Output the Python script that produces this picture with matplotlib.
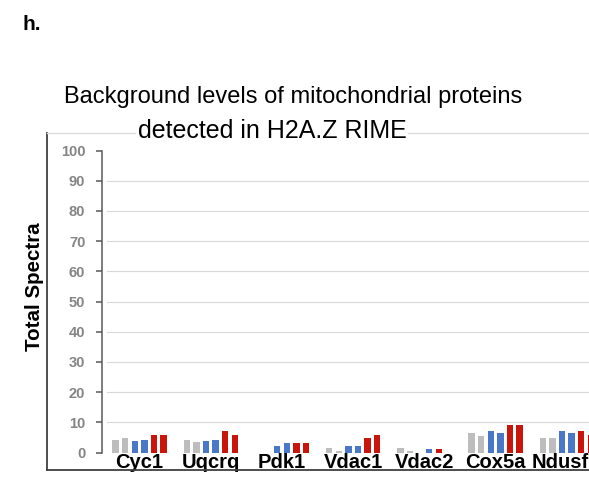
import matplotlib.pyplot as plt
from matplotlib.lines import Line2D
from matplotlib.transforms import ScaledTranslation
import numpy as np

grey = "#bdbdbd"
blue = "#4a78c8"
red = "#c8160c"

proteins = ["Cyc1", "Uqcrq", "Pdk1", "Vdac1", "Vdac2", "Cox5a", "Ndusf"]

# six bars per protein: two grey, two blue, two red
grey1 = [4.2, 4.2, 0.0, 1.4, 1.4, 6.4, 4.7]
grey2 = [4.7, 3.4, 0.0, 0.5, 0.5, 5.3, 4.7]
blue1 = [3.9, 3.9, 2.0, 2.0, 0.0, 7.0, 7.0]
blue2 = [4.2, 4.2, 3.1, 2.0, 1.0, 6.4, 6.4]
red1 = [5.9, 7.0, 3.1, 4.7, 1.0, 9.2, 7.0]
red2 = [5.9, 5.9, 3.1, 5.9, 0.0, 9.2, 5.9]

series = [grey1, grey2, blue1, blue2, red1, red2]
colors = [grey, grey, blue, blue, red, red]

yticks = list(range(0, 101, 10))

W, H = 589, 480
fig = plt.figure(figsize=(W / 100, H / 100), dpi=100)
ax = fig.add_axes([102 / W, 1 - 452.5 / H, 1 - 102 / W, (452.5 - 150.5) / H])

x = np.arange(len(proteins))
step = 0.1348
for i, (vals, color) in enumerate(zip(series, colors)):
    ax.bar(x + (i - 2.5) * step, vals, width=0.09, color=color, zorder=3)

# light horizontal gridlines
for t in yticks[1:-1]:
    ax.plot([-0.46, 6.5], [t, t], color="#d9d9d9", lw=0.8, zorder=1)

ax.set_xlim(-0.527, 6.313)
ax.set_ylim(0, 100)
ax.set_yticks(yticks)
ax.set_yticklabels([str(t) for t in yticks], family="Liberation Sans",
                   fontweight="bold", fontsize=10.5, color="#858585")
ax.set_xticks(x)
ax.set_xticklabels(proteins, family="Liberation Sans", fontweight="bold",
                   fontsize=14.5, color="black")
ax.tick_params(axis="y", direction="out", length=4, width=1.1,
               color="#595959", pad=8)
ax.tick_params(axis="x", length=0, pad=0)

# keep the last label inside the figure
last = ax.get_xticklabels()[-1]
last.set_transform(last.get_transform() + ScaledTranslation(-6 / 100, 0, fig.dpi_scale_trans))

for s in ["top", "right", "bottom"]:
    ax.spines[s].set_visible(False)
ax.spines["left"].set_color("#595959")
ax.spines["left"].set_linewidth(1.1)

# outer frame of the chart area
fx = 46.5 / W
fig.add_artist(Line2D([fx, fx], [1 - 133 / H, 1 - 470 / H], color="#404040", lw=1.3))
fig.add_artist(Line2D([fx, 1], [1 - 470 / H, 1 - 470 / H], color="#404040", lw=1.3))
fig.add_artist(Line2D([fx, 1], [1 - 133 / H, 1 - 133 / H], color="#dddddd", lw=1.0))

fig.text(293.5 / W, 1 - 103 / H, "Background levels of mitochondrial proteins",
         family="Liberation Sans", fontsize=17, ha="center", va="baseline")
fig.text(272 / W, 1 - 138 / H, "detected in H2A.Z RIME",
         family="Liberation Sans", fontsize=18, ha="center", va="baseline",
         bbox=dict(facecolor="white", edgecolor="none", pad=1), zorder=5)

fig.text(22 / W, 1 - 30 / H, "h.", family="Liberation Sans",
         fontweight="bold", fontsize=15, ha="left", va="baseline")
fig.text(35 / W, 1 - 287 / H, "Total Spectra", family="Liberation Sans",
         fontweight="bold", fontsize=14.8, rotation=90, ha="center", va="center")

fig.savefig("out.png", dpi=100)
